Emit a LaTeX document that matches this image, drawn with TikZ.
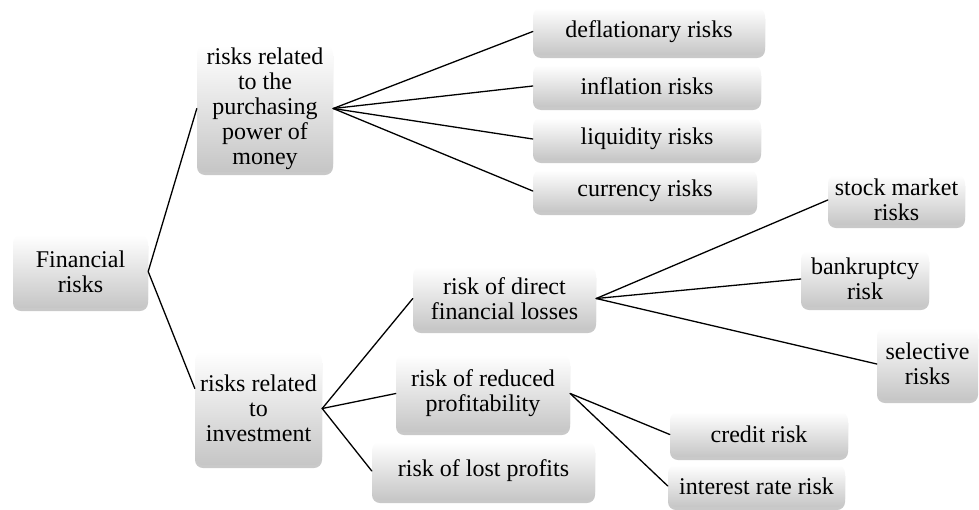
\documentclass[tikz,border=0pt]{standalone}
\usepackage{fontspec}
\setmainfont{Liberation Serif}
\usetikzlibrary{shadows}
\begin{document}
\begin{tikzpicture}[x=1pt,y=-1pt,line join=round,line cap=round,font=\fontsize{24}{25}\selectfont,
	box/.style={rounded corners=8pt,top color=white,bottom color=gray!45,inner sep=0pt,align=center,
		drop shadow={shadow xshift=0pt,shadow yshift=-3pt,opacity=.3,fill=black!70}},
	link/.style={line width=1.3pt}]
	\useasboundingbox (0,0) rectangle (979,509);
	\node[box,minimum width=135,minimum height=73] (fin) at (80.5,271.5) {Financial\\risks};
	\node[box,minimum width=136,minimum height=127] (pp) at (265,108.5) {risks related\\to the\\purchasing\\power of\\money};
	\node[box,minimum width=127,minimum height=113] (inv) at (258.5,408.5) {risks related\\to\\investment};
	\node[box,minimum width=232,minimum height=47] (defl) at (649,31.5) {deflationary risks};
	\node[box,minimum width=228,minimum height=42] (infl) at (647,86) {inflation risks};
	\node[box,minimum width=228,minimum height=42] (liq) at (647,139) {liquidity risks};
	\node[box,minimum width=224,minimum height=42] (cur) at (645,191) {currency risks};
	\node[box,minimum width=183,minimum height=63] (dir) at (504.5,298.5) {risk of direct\\financial losses};
	\node[box,minimum width=174,minimum height=77] (red) at (483,393.5) {risk of reduced\\profitability};
	\node[box,minimum width=223,minimum height=58] (lost) at (483.5,471) {risk of lost profits};
	\node[box,minimum width=137,minimum height=50] (stock) at (896.5,200) {stock market\\risks};
	\node[box,minimum width=128,minimum height=56] (bank) at (865,279) {bankruptcy\\risk};
	\node[box,minimum width=101,minimum height=72] (sel) at (927.5,364) {selective\\risks};
	\node[box,minimum width=178,minimum height=45] (cred) at (759,434.5) {credit risk};
	\node[box,minimum width=177,minimum height=42] (intr) at (756.5,486) {interest rate risk};
	\draw[link] (pp.west)--(fin.east)--([yshift=20pt]inv.west);
	\foreach \n in {defl,infl,liq,cur}
	\draw[link] (pp.east)--(\n.west);
	\foreach \n in {dir,red,lost}
	\draw[link] (inv.east)--(\n.west);
	\foreach \n in {stock,bank,sel}
	\draw[link] (dir.east)--(\n.west);
	\foreach \n in {cred,intr}
	\draw[link] (red.east)--(\n.west);
\end{tikzpicture}
\end{document}
